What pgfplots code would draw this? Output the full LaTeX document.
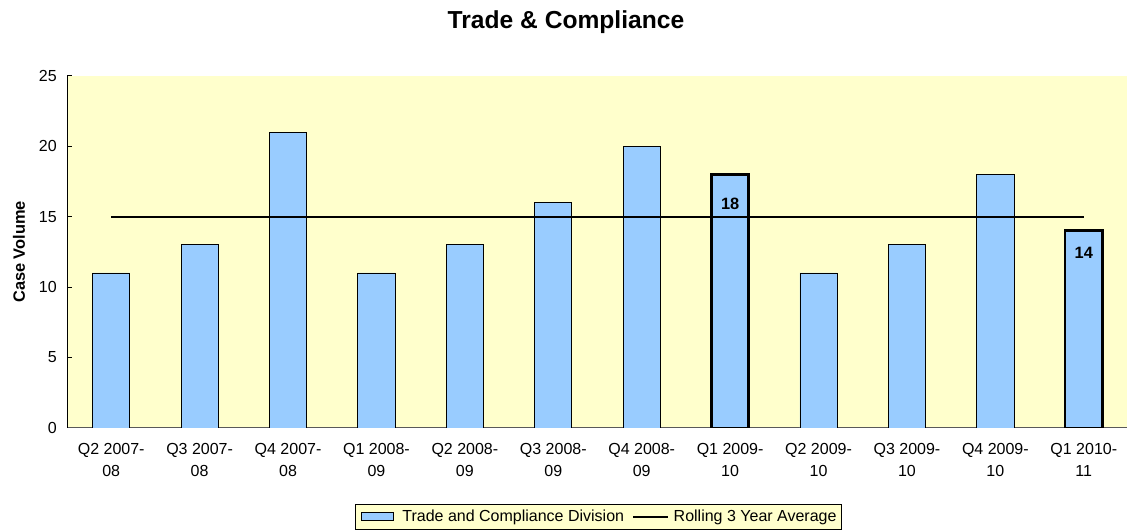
\documentclass[border=0pt]{standalone}
\usepackage{fontspec}
\setmainfont{Liberation Sans}
\usepackage{pgfplots}
\pgfplotsset{compat=1.18}
\definecolor{bgyellow}{HTML}{FFFFCC}
\definecolor{barblue}{HTML}{99CCFF}
\pgfplotsset{
  barleg/.style={legend image code/.code={\draw[##1, line width=0.8pt] (0pt,-4pt) rectangle (32pt,4pt);}},
  lineleg/.style={legend image code/.code={\draw[##1] (0pt,0pt) -- (35pt,0pt);}},
}
\begin{document}
\begin{tikzpicture}[x=1pt,y=1pt]
\path[use as bounding box] (0,0) rectangle (1127,530);
\begin{axis}[
  at={(67pt,102pt)}, anchor=south west,
  scale only axis, width=1061pt, height=352.3pt,
  xmin=-0.5, xmax=11.5, ymin=0, ymax=25,
  ytick={0,5,...,25},
  xtick={0,...,11},
  xticklabels={Q2 2007-\\08, Q3 2007-\\08, Q4 2007-\\08, Q1 2008-\\09, Q2 2008-\\09, Q3 2008-\\09, Q4 2008-\\09, Q1 2009-\\10, Q2 2009-\\10, Q3 2009-\\10, Q4 2009-\\10, Q1 2010-\\11},
  axis x line*=bottom, axis y line*=left,
  x axis line style={draw=gray!70!black, line width=1pt},
  y axis line style={draw=black, line width=1pt},
  tick align=inside, major tick length=5pt,
  ytick style={black, line width=1pt}, xtick style={draw=none},
  tick label style={font=\fontsize{16}{22}\selectfont},
  /pgf/number format/assume math mode=true,
  xticklabel style={align=center, yshift=-12pt},
  yticklabel style={xshift=-6.7pt},
  axis background/.style={fill=bgyellow},
  title={Trade \& Compliance},
  title style={at={(0.4703,1.1345)}, anchor=base, yshift=-6pt, font=\fontsize{24.6}{28}\selectfont\bfseries},
  ylabel={Case Volume},
  ylabel style={at={(axis description cs:-0.0452,0.5)}, anchor=center, font=\fontsize{16.4}{20}\selectfont\bfseries},
  legend columns=2,
  legend style={at={(0.501,-0.2146)}, anchor=north, draw=black, line width=0.8pt, fill=bgyellow,
    font=\fontsize{16}{20}\selectfont, inner xsep=5pt, inner ysep=6pt,
    nodes={inner sep=0pt},
    /tikz/column 1/.style={column sep=9pt},
    /tikz/column 2/.style={column sep=8pt},
    /tikz/column 3/.style={column sep=4.6pt}},
]
\addplot[ybar, bar width=0.42, bar shift=0pt, fill=barblue, draw=black, line width=0.8pt, barleg]
  coordinates {(0,11) (1,13) (2,21) (3,11) (4,13) (5,16) (6,20) (7,18) (8,11) (9,13) (10,18) (11,14)};
\addlegendentry{Trade and Compliance Division}
\addplot[ybar, bar width=0.42, bar shift=0pt, fill=barblue, draw=black, line width=2.5pt, forget plot,
  nodes near coords, every node near coord/.append style={font=\fontsize{16.4}{20}\selectfont\bfseries, anchor=center, yshift=-29.7pt, black}]
  coordinates {(7,18)};
\addplot[ybar, bar width=0.42, bar shift=0pt, fill=barblue, draw=black, line width=2.5pt, forget plot,
  nodes near coords, every node near coord/.append style={font=\fontsize{16.4}{20}\selectfont\bfseries, anchor=center, yshift=-22pt, black}]
  coordinates {(11,14)};
\addplot[black, line width=2pt, mark=none, lineleg]
  coordinates {(0,15) (11,15)};
\addlegendentry{Rolling 3 Year Average}
\end{axis}
\end{tikzpicture}
\end{document}
